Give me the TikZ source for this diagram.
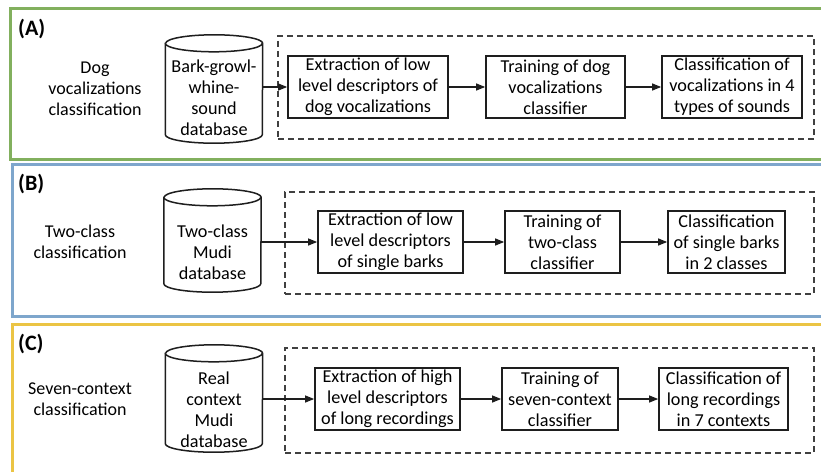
\documentclass[tikz,border=0pt]{standalone}
\usepackage{fontspec}
\setmainfont{Carlito}
\usetikzlibrary{arrows.meta}

\definecolor{panelgreen}{HTML}{82B05E}
\definecolor{panelblue}{HTML}{7EA6CC}
\definecolor{panelyellow}{HTML}{EBC444}
\definecolor{inkline}{HTML}{1E1E1E}

% database cylinder drawn around a (borderless) rectangular node
\newcommand\drawdb[1]{%
  \draw[dbline] ([yshift=-8.5pt]#1.north west) -- ([yshift=8.5pt]#1.south west)
    arc[start angle=180,end angle=360,x radius=48.5pt,y radius=8.5pt]
    -- ([yshift=-8.5pt]#1.north east)
    arc[start angle=0,end angle=180,x radius=48.5pt,y radius=8.5pt] -- cycle;
  \draw[dbline] ([yshift=-8.5pt]#1.north west)
    arc[start angle=180,end angle=360,x radius=48.5pt,y radius=8.5pt];}

\begin{document}
\begin{tikzpicture}[x=1pt,y=-1pt,
  body/.style={font=\fontsize{18.2}{21}\selectfont},
  proc/.style={body, draw=inkline, line width=1.7pt, align=center, inner sep=0pt,
               minimum height=62pt},
  dbbody/.style={minimum width=97pt, inner sep=0pt},
  dbline/.style={draw=inkline, line width=1.5pt, fill=white},
  dbtext/.style={body, align=center, inner sep=0pt},
  stage/.style={draw=inkline!85, line width=1.1pt, dash pattern=on 6pt off 4pt,
                inner sep=0pt},
  tag/.style={font=\fontsize{22}{25}\selectfont\bfseries, anchor=west, inner sep=0pt},
  title/.style={font=\fontsize{18}{21}\selectfont, align=center, inner sep=0pt},
  flow/.style={draw=inkline, line width=1.1pt, -{Triangle[length=9pt,width=7pt]}},
  panel/.style={line width=3pt}
]
\useasboundingbox (0,0) rectangle (821,471);
\clip (0,0) rectangle (821,471);
\fill[white] (0,0) rectangle (821,471);

% ---------- coloured panels ----------
\draw[panel, draw=panelgreen]  (10,8)   rectangle (840,159);
\draw[panel, draw=panelblue]   (12,164) rectangle (840,316);
\draw[panel, draw=panelyellow] (12,324) rectangle (840,490);

% ---------- (A) ----------
\node[tag] (tagA) at (18,29) {(A)};
\node[title] (titleA) at (95,89) {Dog\\vocalizations\\classification};
\node[stage, minimum width=536pt, minimum height=103pt] (stageA) at (546,87.5) {};
\node[dbbody, minimum height=108pt] (dbA) at (214,89) {};
\drawdb{dbA}
\node[dbtext] (dbAtxt) at (214,98) {Bark-growl-\\whine-\\sound\\database};
\node[proc, minimum width=160pt] (A1) at (368,87) {Extraction of low\\level descriptors of\\dog vocalizations};
\node[proc, minimum width=139pt] (A2) at (555.5,87) {Training of dog\\vocalizations\\classifier};
\node[proc, minimum width=140pt] (A3) at (732,87) {Classification of\\vocalizations in 4\\types of sounds};
\draw[flow] (dbA.east |- A1.west) -- (A1.west);
\draw[flow] (A1) -- (A2);
\draw[flow] (A2) -- (A3);

% ---------- (B) ----------
\node[tag] (tagB) at (18,184) {(B)};
\node[title] (titleB) at (80,242) {Two-class\\classification};
\node[stage, minimum width=529pt, minimum height=102pt] (stageB) at (549.5,243) {};
\node[dbbody, minimum height=103pt] (dbB) at (212.5,240.5) {};
\drawdb{dbB}
\node[dbtext] (dbBtxt) at (212.5,252) {Two-class\\Mudi\\database};
\node[proc, minimum width=145pt] (B1) at (390.5,242) {Extraction of low\\level descriptors\\of single barks};
\node[proc, minimum width=115pt] (B2) at (562.5,242) {Training of\\two-class\\classifier};
\node[proc, minimum width=117pt] (B3) at (726.5,242) {Classification\\of single barks\\in 2 classes};
\draw[flow] (dbB.east |- B1.west) -- (B1.west);
\draw[flow] (B1) -- (B2);
\draw[flow] (B2) -- (B3);

% ---------- (C) ----------
\node[tag] (tagC) at (18,344) {(C)};
\node[title] (titleC) at (80,399) {Seven-context\\classification};
\node[stage, minimum width=529pt, minimum height=105pt] (stageC) at (549.5,400.5) {};
\node[dbbody, minimum height=107pt] (dbC) at (214,398.5) {};
\drawdb{dbC}
\node[dbtext] (dbCtxt) at (214,410) {Real\\context\\Mudi\\database};
\node[proc, minimum width=145pt] (C1) at (387.5,399) {Extraction of high\\level descriptors\\of long recordings};
\node[proc, minimum width=116pt] (C2) at (560,399) {Training of\\seven-context\\classifier};
\node[proc, minimum width=129pt] (C3) at (723.5,399) {Classification of\\long recordings\\in 7 contexts};
\draw[flow] (dbC.east |- C1.west) -- (C1.west);
\draw[flow] (C1) -- (C2);
\draw[flow] (C2) -- (C3);
\end{tikzpicture}
\end{document}
